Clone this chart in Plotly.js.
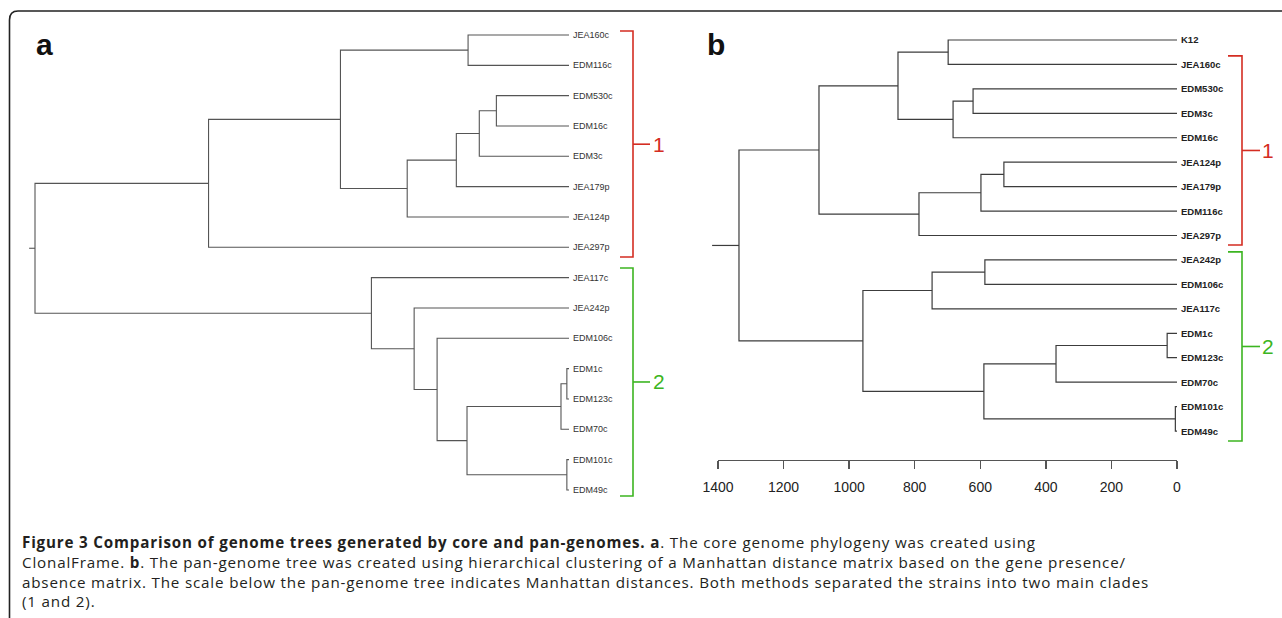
<!DOCTYPE html>
<html><head><meta charset="utf-8">
<script src="https://cdn.plot.ly/plotly-3.0.1.min.js"></script>
<style>
html,body{margin:0;padding:0;background:#fff;overflow:hidden}
#chart{width:1282px;height:618px}
g.annotation[data-index="0"] text{letter-spacing:0.82px}
</style>
</head><body><div id="chart"></div>
<script>
// ---------- Panel a: core genome phylogeny (ClonalFrame), relative branch heights ----------
const leavesA = ["JEA160c","EDM116c","EDM530c","EDM16c","EDM3c","JEA179p","JEA124p","JEA297p",
                 "JEA117c","JEA242p","EDM106c","EDM1c","EDM123c","EDM70c","EDM101c","EDM49c"];
// merges: negative = leaf (-1 = first leaf), positive = earlier merge number (1-based)
const mergeLeftA  = [-12,-15, 1,-3, 4,-1, 3, 5,-11,-10, 8,-9, 6,13,14];
const mergeRightA = [-13,-16,-14,-4,-5,-2, 2,-6, 7, 9,-7,10,11,-8,12];
const heightA     = [0.004,0.004,0.015,0.136,0.168,0.189,0.191,0.211,0.247,0.290,0.303,0.370,0.428,0.675,1.0];
const rootStubA = 1.011;

// ---------- Panel b: pan-genome tree (Manhattan distance) ----------
const leavesB = ["K12","JEA160c","EDM530c","EDM3c","EDM16c","JEA124p","JEA179p","EDM116c","JEA297p",
                 "JEA242p","EDM106c","JEA117c","EDM1c","EDM123c","EDM70c","EDM101c","EDM49c"];
const mergeLeftB  = [-16,-13, 2,-6,-10, 3, 4,-3, 8,-1, 5, 7,10,11,13,15];
const mergeRightB = [-17,-14,-15,-7,-11, 1,-8,-4,-5,-2,-12,-9, 9, 6,12,14];
const heightB     = [5,30,369,528,586,589,598,622,683,698,747,787,851,958,1092,1336];
const rootStubB = 1418;
const scaleTicks = [0,200,400,600,800,1000,1200,1400];

// clades (bracket labels)
const cladeLabels = ["1","2"];
const cladeColors = ["#d42d22","#3cb521"];

const captionLines = [
 "<b>Figure 3 Comparison of genome trees generated by core and pan-genomes. a</b>. The core genome phylogeny was created using",
 "ClonalFrame. <b>b</b>. The pan-genome tree was created using hierarchical clustering of a Manhattan distance matrix based on the gene presence/",
 "absence matrix. The scale below the pan-genome tree indicates Manhattan distances. Both methods separated the strains into two main clades",
 "(1 and 2)."
];

// ---------- helpers ----------
const W = 1282, H = 618;
const xp = p => p / W;
const yp = p => 1 - p / H;

function dendro(left, right, height, stub){
  const ny = [], xs = [], ys = [];
  const yOf = c => c < 0 ? (-c - 1) : ny[c - 1];
  const hOf = c => c < 0 ? 0 : height[c - 1];
  for (let i = 0; i < left.length; i++){
    const a = left[i], b = right[i], h = height[i];
    const ya = yOf(a), yb = yOf(b);
    xs.push(hOf(a), h, h, hOf(b), null);
    ys.push(ya, ya, yb, yb, null);
    ny.push((ya + yb) / 2);
  }
  const rootY = ny[ny.length - 1], rootH = height[height.length - 1];
  xs.push(rootH, stub); ys.push(rootY, rootY);
  return {xs, ys};
}

const dA = dendro(mergeLeftA, mergeRightA, heightA, rootStubA);
const dB = dendro(mergeLeftB, mergeRightB, heightB, rootStubB);

// pixel geometry
const A_LEAF = 569, A_UNIT = 534;          // panel a: leaf x px, px per unit height
const A_Y0 = 35, A_DY = 30.33;             // panel a: first leaf y px, spacing
const B_LEAF = 1177, B_UNIT = 459 / 1400;  // panel b: px per distance unit
const B_Y0 = 40, B_DY = 24.44;

const FONT = "Liberation Sans, Arial, sans-serif";

const traces = [
  {x: dA.xs, y: dA.ys, xaxis: "x", yaxis: "y", mode: "lines", line: {color: "#555", width: 1.1},
   hoverinfo: "skip", showlegend: false},
  {x: dB.xs, y: dB.ys, xaxis: "x2", yaxis: "y2", mode: "lines", line: {color: "#3c3c3c", width: 1.2},
   hoverinfo: "skip", showlegend: false},
  {x: [0, 1400], y: [0, 0], xaxis: "x3", yaxis: "y2", mode: "markers", marker: {opacity: 0},
   hoverinfo: "skip", showlegend: false}
];

const hidden = {visible: true, showgrid: false, zeroline: false, showline: false, showticklabels: false, ticks: "", fixedrange: true};

const annotations = [
  {text: captionLines.join("<br>"), xref: "paper", yref: "paper", x: xp(20), y: yp(571.5),
   xanchor: "left", yanchor: "middle", align: "left", showarrow: false,
   font: {family: "Open Sans, Noto Sans, sans-serif", size: 15.2, color: "#231f20"}},
  {text: "<b>a</b>", xref: "paper", yref: "paper", x: xp(34), y: yp(45), xanchor: "left", yanchor: "middle",
   showarrow: false, font: {family: FONT, size: 30, color: "#111"}},
  {text: "<b>b</b>", xref: "paper", yref: "paper", x: xp(705), y: yp(44), xanchor: "left", yanchor: "middle",
   showarrow: false, font: {family: FONT, size: 30, color: "#111"}},
  {text: cladeLabels[0], xref: "paper", yref: "y", x: xp(651), y: 3.6, xanchor: "left", yanchor: "middle",
   showarrow: false, font: {family: FONT, size: 21, color: cladeColors[0]}},
  {text: cladeLabels[1], xref: "paper", yref: "y", x: xp(651), y: 11.44, xanchor: "left", yanchor: "middle",
   showarrow: false, font: {family: FONT, size: 21, color: cladeColors[1]}},
  {text: cladeLabels[0], xref: "paper", yref: "y2", x: xp(1260), y: 4.52, xanchor: "left", yanchor: "middle",
   showarrow: false, font: {family: FONT, size: 21, color: cladeColors[0]}},
  {text: cladeLabels[1], xref: "paper", yref: "y2", x: xp(1260), y: 12.54, xanchor: "left", yanchor: "middle",
   showarrow: false, font: {family: FONT, size: 21, color: cladeColors[1]}}
].concat(
  leavesA.map((t, i) => ({text: t, xref: "x", yref: "y", x: 0, y: i, xanchor: "left", yanchor: "middle",
    xshift: 2, showarrow: false, font: {family: FONT, size: 9, color: "#333"}})),
  leavesB.map((t, i) => ({text: "<b>" + t + "</b>", xref: "x2", yref: "y2", x: 0, y: i, xanchor: "left", yanchor: "middle",
    xshift: 2, showarrow: false, font: {family: FONT, size: 9.5, color: "#222"}}))
);

const layout = {
  width: W, height: H,
  margin: {l: 0, r: 0, t: 0, b: 0},
  paper_bgcolor: "#fff", plot_bgcolor: "rgba(0,0,0,0)",
  showlegend: false,
  xaxis: Object.assign({}, hidden, {domain: [xp(20), xp(600)],
          range: [(A_LEAF - 20) / A_UNIT, (A_LEAF - 600) / A_UNIT], anchor: "y"}),
  yaxis: Object.assign({}, hidden, {domain: [yp(512), yp(10)],
          range: [(512 - A_Y0) / A_DY, (10 - A_Y0) / A_DY], anchor: "x"}),
  xaxis2: Object.assign({}, hidden, {domain: [xp(700), xp(1190)],
          range: [(B_LEAF - 700) / B_UNIT, (B_LEAF - 1190) / B_UNIT], anchor: "y2"}),
  yaxis2: Object.assign({}, hidden, {domain: [yp(450), yp(20)],
          range: [(450 - B_Y0) / B_DY, (20 - B_Y0) / B_DY], anchor: "x2"}),
  xaxis3: {domain: [xp(718), xp(1177)], range: [1400, 0], anchor: "free", position: yp(460),
          showgrid: false, zeroline: false, showline: true, linecolor: "#555", linewidth: 1.3,
          ticks: "outside", ticklen: 8, tickwidth: 1.3, tickcolor: "#555",
          tickmode: "array", tickvals: scaleTicks, ticktext: scaleTicks.map(String),
          ticklabelstandoff: 6,
          tickfont: {family: FONT, size: 14, color: "#222"},
          fixedrange: true},
  shapes: [
    // rounded frame
    {type: "path", xref: "paper", yref: "paper",
     path: `M ${xp(9.5)} ${yp(620)} L ${xp(9.5)} ${yp(20)} Q ${xp(9.5)} ${yp(11)} ${xp(18)} ${yp(11)} L ${xp(1284)} ${yp(11)}`,
     line: {color: "#222", width: 1.6}},
    // panel a brackets
    {type: "path", xref: "paper", yref: "y",
     path: `M ${xp(620)} -0.13 L ${xp(633)} -0.13 L ${xp(633)} 7.32 L ${xp(620)} 7.32`,
     line: {color: cladeColors[0], width: 1.6}},
    {type: "line", xref: "paper", yref: "y", x0: xp(633), x1: xp(650), y0: 3.6, y1: 3.6,
     line: {color: cladeColors[0], width: 1.6}},
    {type: "path", xref: "paper", yref: "y",
     path: `M ${xp(620)} 7.68 L ${xp(633)} 7.68 L ${xp(633)} 15.2 L ${xp(620)} 15.2`,
     line: {color: cladeColors[1], width: 1.6}},
    {type: "line", xref: "paper", yref: "y", x0: xp(633), x1: xp(650), y0: 11.44, y1: 11.44,
     line: {color: cladeColors[1], width: 1.6}},
    // panel b brackets
    {type: "path", xref: "paper", yref: "y2",
     path: `M ${xp(1228)} 0.65 L ${xp(1242)} 0.65 L ${xp(1242)} 8.39 L ${xp(1228)} 8.39`,
     line: {color: cladeColors[0], width: 1.6}},
    {type: "line", xref: "paper", yref: "y2", x0: xp(1242), x1: xp(1260), y0: 4.52, y1: 4.52,
     line: {color: cladeColors[0], width: 1.6}},
    {type: "path", xref: "paper", yref: "y2",
     path: `M ${xp(1228)} 8.67 L ${xp(1242)} 8.67 L ${xp(1242)} 16.41 L ${xp(1228)} 16.41`,
     line: {color: cladeColors[1], width: 1.6}},
    {type: "line", xref: "paper", yref: "y2", x0: xp(1242), x1: xp(1260), y0: 12.54, y1: 12.54,
     line: {color: cladeColors[1], width: 1.6}}
  ],
  annotations: annotations
};

Plotly.newPlot("chart", traces, layout, {staticPlot: true, displayModeBar: false});
</script>
</body></html>
